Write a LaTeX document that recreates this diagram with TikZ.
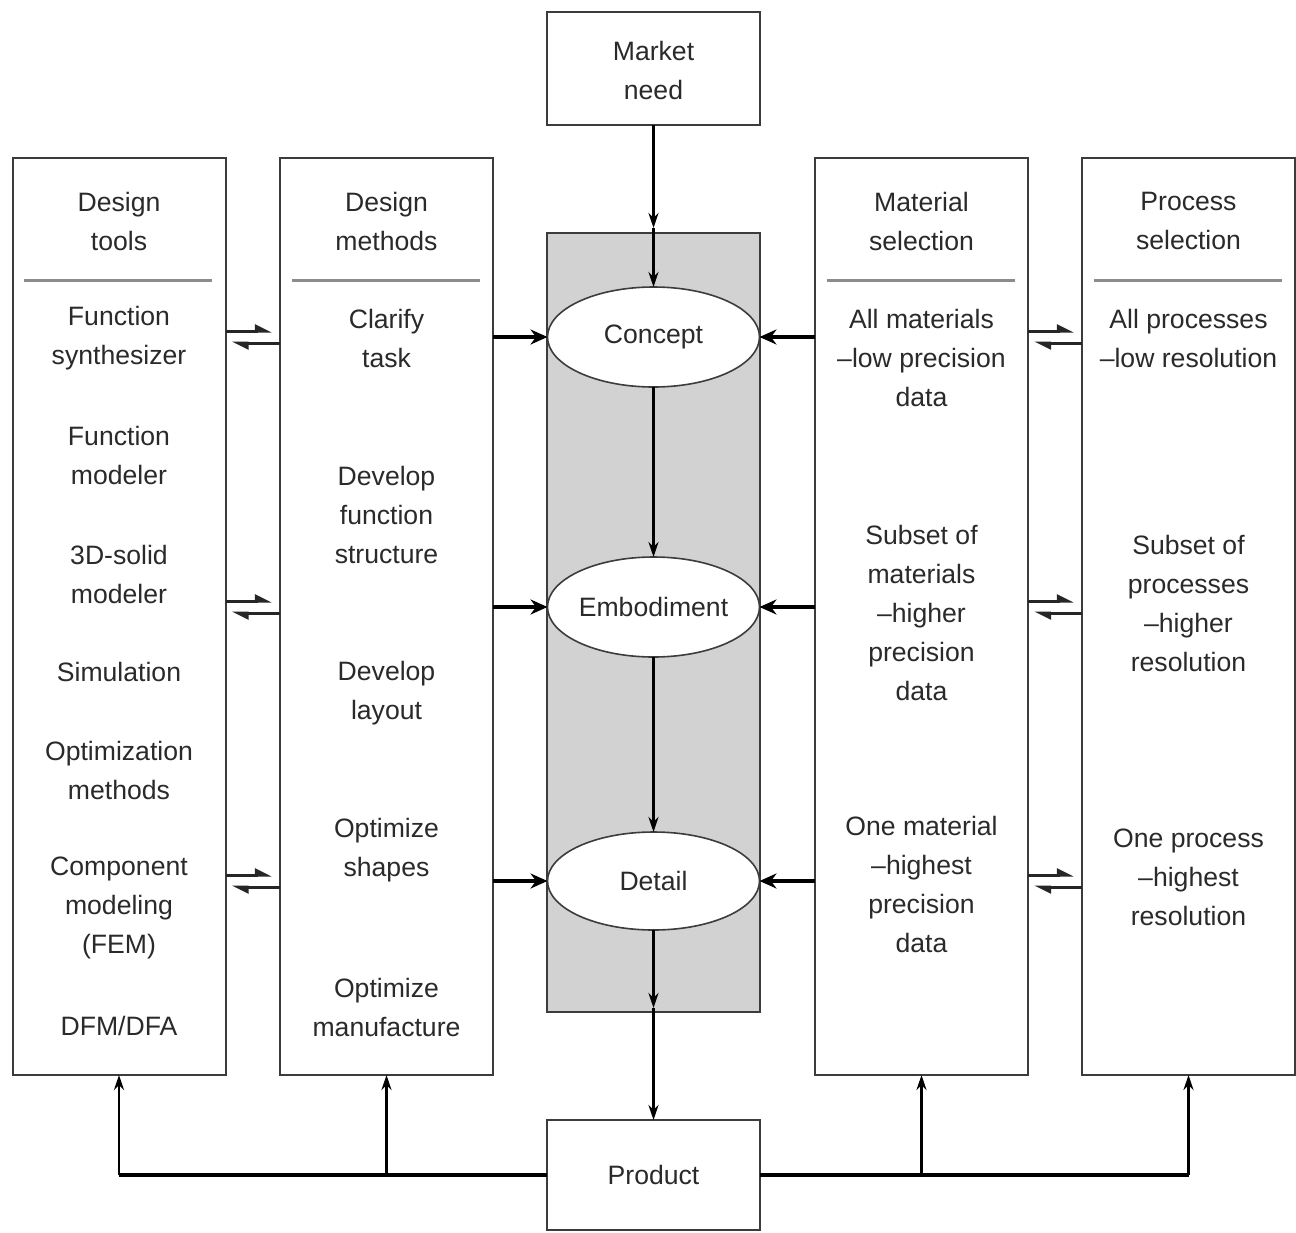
\documentclass[tikz,border=0pt]{standalone}
\usepackage{fontspec}
\setmainfont{Liberation Sans}
\usetikzlibrary{arrows.meta,shapes.geometric}
\definecolor{ink}{HTML}{2A2A2A}
\definecolor{frame}{HTML}{3C3C3C}
\definecolor{rule}{HTML}{8C8C8C}
\definecolor{panel}{HTML}{D2D2D2}
\tikzset{
  column/.style={draw=frame, line width=2pt, fill=white, minimum width=213pt,
    minimum height=917pt, inner sep=0pt, outer sep=0pt},
  endbox/.style={draw=frame, line width=2pt, fill=white, minimum width=213pt,
    inner sep=0pt, outer sep=0pt},
  stage/.style={ellipse, draw=frame, line width=1.6pt, fill=white,
    minimum width=212pt, minimum height=100pt, inner sep=0pt, outer sep=0pt,
    text=ink, font=\fontsize{26.6}{39}\selectfont},
  txt/.style={text=ink, align=center, inner sep=0pt,
    font=\fontsize{26.6}{39}\selectfont},
  sepline/.style={draw=rule, line width=3pt},
  flow/.style={draw=black, line width=2.5pt, -{Stealth[length=15pt,width=10pt]}},
  feed/.style={draw=black, line width=4.5pt, -{Stealth[length=17pt,width=15pt]}},
  link/.style={draw=black, line width=3.5pt},
  harp/.style={draw=black!85, line width=3pt,
    -{Triangle[harpoon,length=14pt,width=13pt,fill=black!85]}}
}
\begin{document}
\begin{tikzpicture}[x=1pt,y=-1pt]
\useasboundingbox (0,0) rectangle (1296,1232);

% four side columns
\node[column] (dt) at (119,616.5) {};
\node[column] (dm) at (386.5,616.5) {};
\node[column] (ms) at (921.5,616.5) {};
\node[column] (ps) at (1188.5,616.5) {};

% central stages
\node[endbox, minimum height=113pt] (mn) at (653.5,68.5) {};
\node[txt] (mnt) at (653.5,70) {Market\\need};
\node[endbox, fill=panel, minimum height=779pt] (gb) at (653.5,622.5) {};
\node[endbox, minimum height=110pt] (pr) at (653.5,1175) {};
\node[txt] (prt) at (653.5,1175) {Product};

\node[stage] (cc) at (653.5,337) {Concept};
\node[stage] (em) at (653.5,607) {Embodiment};
\node[stage, minimum height=98pt] (de) at (653.5,881) {Detail};

% column headers and rules
\node[txt] (h1) at (119,221) {Design\\tools};
\node[txt] (h2) at (386.5,221) {Design\\methods};
\node[txt] (h3) at (921.5,221) {Material\\selection};
\node[txt] (h4) at (1188.5,221) {Process\\selection};
\draw[sepline] (24,280) -- (212,280);
\draw[sepline] (292,280) -- (480,280);
\draw[sepline] (827,280) -- (1015,280);
\draw[sepline] (1094,280) -- (1282,280);

% design tools
\node[txt] (t1) at (119,338) {Function\\synthesizer};
\node[txt] (t2) at (119,455) {Function\\modeler};
\node[txt] (t3) at (119,574) {3D-solid\\modeler};
\node[txt] (t4) at (119,672) {Simulation};
\node[txt] (t5) at (119,770) {Optimization\\methods};
\node[txt] (t6) at (119,908) {Component\\modeling\\(FEM)};
\node[txt] (t7) at (119,1026) {DFM/DFA};

% design methods
\node[txt] (m1) at (386.5,338) {Clarify\\task};
\node[txt] (m2) at (386.5,515) {Develop\\function\\structure};
\node[txt] (m3) at (386.5,693) {Develop\\layout};
\node[txt] (m4) at (386.5,850) {Optimize\\shapes};
\node[txt] (m5) at (386.5,1007) {Optimize\\manufacture};

% material selection
\node[txt] (s1) at (921.5,358) {All materials\\–low precision\\data};
\node[txt] (s2) at (921.5,613) {Subset of\\materials\\–higher\\precision\\data};
\node[txt] (s3) at (921.5,884) {One material\\–highest\\precision\\data};

% process selection
\node[txt] (p1) at (1188.5,338) {All processes\\–low resolution};
\node[txt] (p2) at (1188.5,603) {Subset of\\processes\\–higher\\resolution};
\node[txt] (p3) at (1188.5,877) {One process\\–highest\\resolution};

% main vertical flow
\coordinate (gtop) at (653.5,228);
\coordinate (gbot) at (653.5,1008);
\draw[flow] (mn.south) -- (gtop);
\draw[flow] (gtop) -- (cc.north);
\draw[flow] (cc.south) -- (em.north);
\draw[flow] (em.south) -- (de.north);
\draw[flow] (de.south) -- (gbot);
\draw[flow] (gbot) -- (pr.north);

% inputs into each stage
\foreach \s in {cc,em,de}{
  \draw[feed] (dm.east |- \s) -- (\s.west);
  \draw[feed] (ms.west |- \s) -- (\s.east);
}

% two-way exchange between neighbouring columns
\foreach \s in {cc,em,de}{
  \draw[harp] ([yshift=6pt]dt.east |- \s) -- ([yshift=6pt,xshift=-8pt]dm.west |- \s);
  \draw[harp] ([yshift=-6pt]dm.west |- \s) -- ([yshift=-6pt,xshift=6pt]dt.east |- \s);
  \draw[harp] ([yshift=6pt]ms.east |- \s) -- ([yshift=6pt,xshift=-8pt]ps.west |- \s);
  \draw[harp] ([yshift=-6pt]ps.west |- \s) -- ([yshift=-6pt,xshift=6pt]ms.east |- \s);
}

% feedback from the product to all columns
\coordinate (fl) at (dt.south |- pr.west);
\coordinate (fr) at (ps.south |- pr.east);
\draw[link] (pr.west) -- (fl);
\draw[link] (pr.east) -- (fr);
\draw[flow] (fl) -- (dt.south);
\draw[flow] (dm.south |- fl) -- (dm.south);
\draw[flow] (ms.south |- fr) -- (ms.south);
\draw[flow] (fr) -- (ps.south);
\end{tikzpicture}
\end{document}
